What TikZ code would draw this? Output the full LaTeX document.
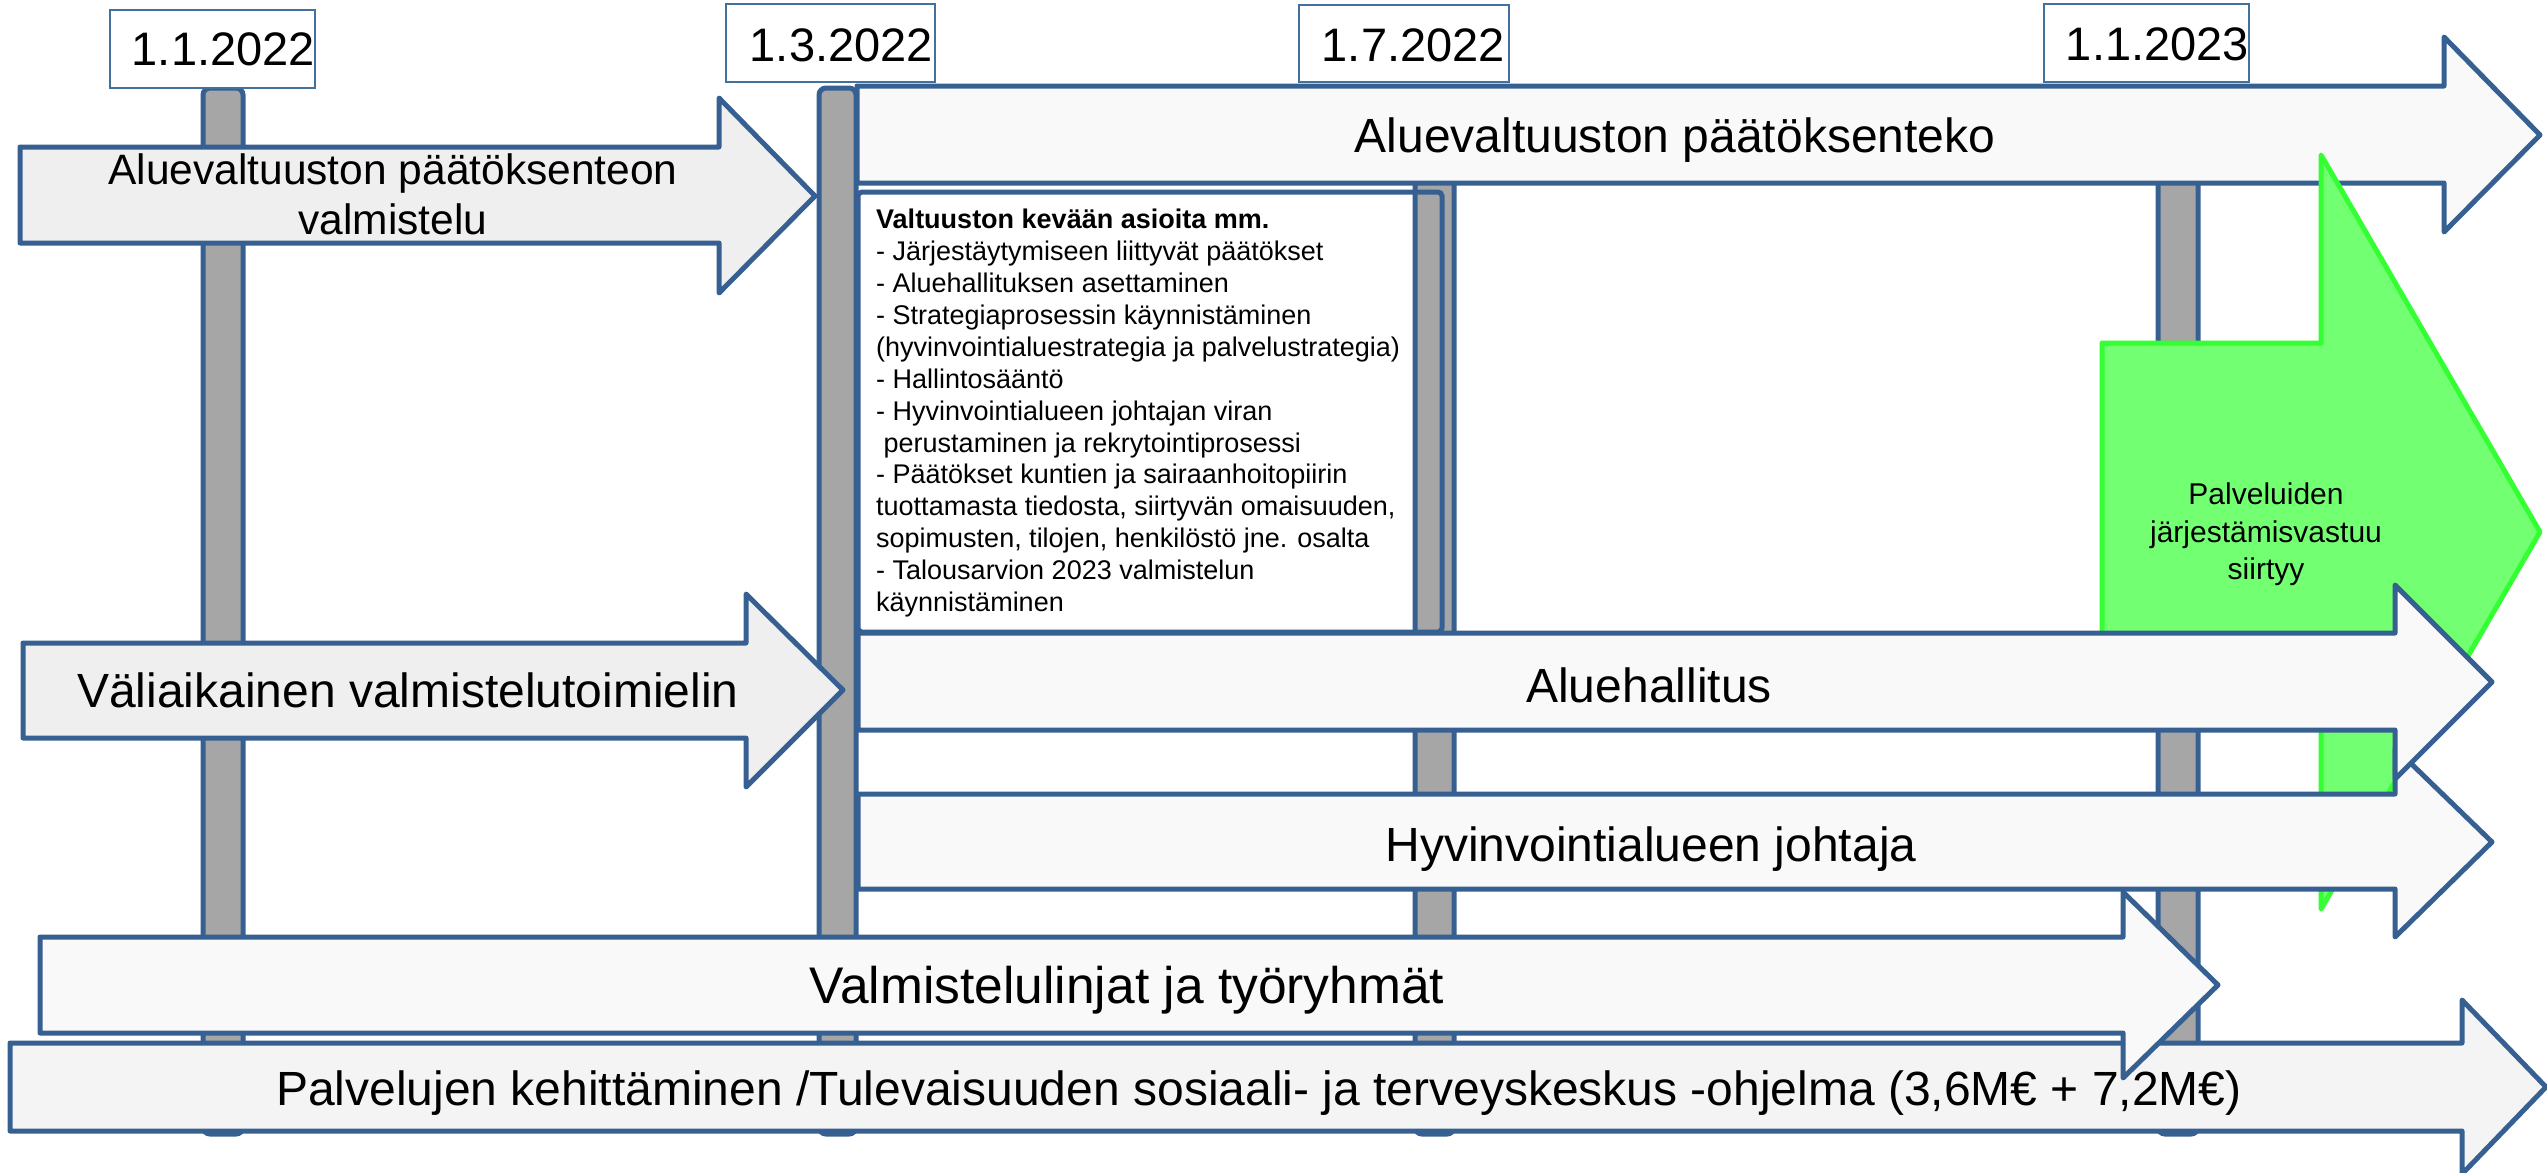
\documentclass[tikz,border=0pt]{standalone}
\usepackage{fontspec}
\setmainfont{Liberation Sans}
\definecolor{bord}{HTML}{376092}
\definecolor{fillA}{HTML}{EFEFEF}
\definecolor{fillB}{HTML}{F9F9F9}
\definecolor{fillG}{HTML}{F4F4F4}
\definecolor{polegray}{HTML}{A6A6A6}
\definecolor{grfill}{HTML}{72FF72}
\definecolor{grline}{HTML}{33FF33}
\definecolor{datebord}{HTML}{41719C}
\begin{document}
\begin{tikzpicture}[x=1pt,y=-1pt,
  polebox/.style={draw=bord, fill=polegray, line width=5pt, rounded corners=7pt},
  bigarrow/.style={draw=bord, line width=5pt, line join=round},
  datebox/.style={draw=datebord, line width=2.5pt, fill=white},
  datetext/.style={font=\fontsize{47}{56}\selectfont, anchor=base east, inner sep=0pt},
  bigtext/.style={font=\fontsize{48}{57}\selectfont, anchor=base, inner sep=0pt},
]
\useasboundingbox[fill=white] (0,0) rectangle (2547,1172);

% poles
\draw[polebox] (203,88) rectangle (243,1134);
\draw[polebox] (819,88) rectangle (856,1134);
\draw[polebox] (1415,88) rectangle (1454,1134);
\draw[polebox] (2158,88) rectangle (2198,1134);

% date boxes
\draw[datebox] (110,10) rectangle (315,88);
\node[datetext] (d1) at (315,66) {1.1.2022};
\draw[datebox] (726,4) rectangle (935,82);
\node[datetext] (d2) at (933,61) {1.3.2022};
\draw[datebox] (1299,5) rectangle (1509,82);
\node[datetext] (d3) at (1505,62) {1.7.2022};
\draw[datebox] (2044,4) rectangle (2249,82);
\node[datetext] (d4) at (2249,60) {1.1.2023};

% bottom arrow
\draw[bigarrow, fill=fillG] (10,1043) -- (2462,1043) -- (2462,1000) -- (2546,1087) -- (2462,1174) -- (2462,1131) -- (10,1131) -- cycle;
\node[bigtext] (tG) at (1259,1105) {Palvelujen kehittäminen /Tulevaisuuden sosiaali- ja terveyskeskus -ohjelma (3,6M€ + 7,2M€)};

% arrow A
\draw[bigarrow, fill=fillA] (20,147) -- (719,147) -- (719,98) -- (815,196) -- (719,293) -- (719,243) -- (20,243) -- cycle;
\node[font=\fontsize{42.5}{50}\selectfont, align=center, anchor=north, inner sep=0pt] (tA) at (393,154) {Aluevaltuuston päätöksenteon\\valmistelu};

% arrow B
\draw[bigarrow, fill=fillB] (857,86) -- (2444,86) -- (2444,37) -- (2540,135) -- (2444,232) -- (2444,183) -- (857,183) -- cycle;
\node[bigtext] (tB) at (1675,152) {Aluevaltuuston päätöksenteko};

% arrow C
\draw[bigarrow, fill=fillA] (23,643) -- (746,643) -- (746,594) -- (843,690) -- (746,787) -- (746,738) -- (23,738) -- cycle;
\node[bigtext] (tC) at (408,707) {Väliaikainen valmistelutoimielin};

% green arrow
\draw[draw=grline, fill=grfill, line width=5pt, line join=round] (2102,343) -- (2321,343) -- (2321,155) -- (2540,532) -- (2321,909) -- (2321,721) -- (2102,721) -- cycle;
\node[font=\fontsize{30}{37.5}\selectfont, align=center, anchor=north, inner sep=0pt] (tGreen) at (2266,483) {Palveluiden\\järjestämisvastuu\\siirtyy};

% arrow E
\draw[bigarrow, fill=fillB] (858,794) -- (2395,794) -- (2395,748) -- (2492,842) -- (2395,937) -- (2395,889) -- (858,889) -- cycle;
\node[bigtext] (tE) at (1651,861) {Hyvinvointialueen johtaja};

% arrow D
\draw[bigarrow, fill=fillB] (858,633) -- (2395,633) -- (2395,585) -- (2492,682) -- (2395,779) -- (2395,730) -- (858,730) -- cycle;
\node[bigtext] (tD) at (1649,702) {Aluehallitus};

% arrow F
\draw[bigarrow, fill=fillB] (40,937) -- (2123,937) -- (2123,892) -- (2218,985) -- (2123,1078) -- (2123,1033) -- (40,1033) -- cycle;
\node[bigtext, font=\fontsize{51.5}{60}\selectfont] (tF) at (1127,1003) {Valmistelulinjat ja työryhmät};

% text box
\draw[draw=bord, line width=5pt, rounded corners=4pt] (858,192) rectangle (1442,632);
\node[font=\fontsize{27}{31.9}\selectfont, align=left, anchor=north west, inner sep=0pt] (tBox) at (876,209) {\textbf{Valtuuston kevään asioita mm.}\\
- Järjestäytymiseen liittyvät päätökset\\
- Aluehallituksen asettaminen\\
- Strategiaprosessin käynnistäminen\\
(hyvinvointialuestrategia ja palvelustrategia)\\
- Hallintosääntö\\
- Hyvinvointialueen johtajan viran\\
\ perustaminen ja rekrytointiprosessi\\
- Päätökset kuntien ja sairaanhoitopiirin\\
tuottamasta tiedosta, siirtyvän omaisuuden,\\
sopimusten, tilojen, henkilöstö jne. osalta\\
- Talousarvion 2023 valmistelun\\
käynnistäminen};
\end{tikzpicture}
\end{document}
